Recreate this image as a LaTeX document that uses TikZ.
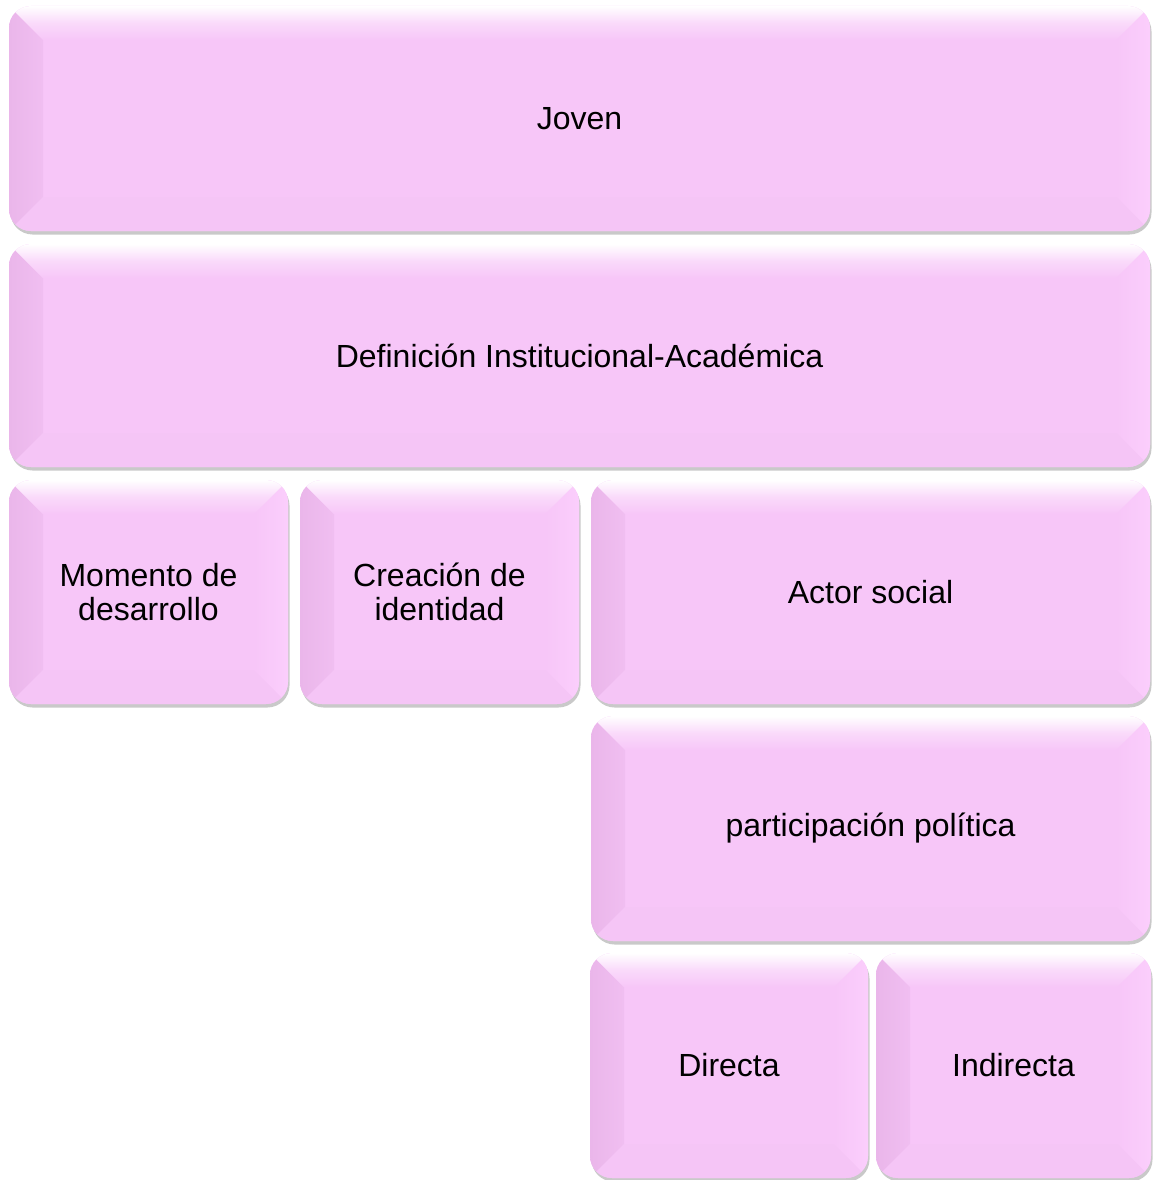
\documentclass[tikz,border=0pt]{standalone}
\usepackage{fontspec}
\setmainfont{Liberation Sans}
\usetikzlibrary{calc,shadows}
\definecolor{pinkmain}{RGB}{247,198,248}
\definecolor{pinkleft}{RGB}{234,182,234}
\definecolor{pinkright}{RGB}{251,206,252}
\definecolor{pinkbot}{RGB}{245,197,246}
\tikzset{
  x=1pt, y=1pt,
  bevbox/.style={
    rectangle, rounded corners=22pt, fill=pinkmain, draw=none, inner sep=0pt,
    align=center, font=\fontsize{32}{34}\selectfont,
    drop shadow={shadow xshift=1.5pt, shadow yshift=-3.5pt, opacity=0.3, fill=black!70},
    path picture={
      \coordinate (NW) at (path picture bounding box.north west);
      \coordinate (NE) at (path picture bounding box.north east);
      \coordinate (SW) at (path picture bounding box.south west);
      \coordinate (SE) at (path picture bounding box.south east);
      \begin{scope}[sharp corners]
      \shade[left color=pinkleft, right color=pinkleft!50!pinkmain]
        (NW) -- ($(NW)+(34,-34)$) -- ($(SW)+(34,34)$) -- (SW) -- cycle;
      \shade[left color=pinkmain, right color=pinkright]
        (NE) -- ($(NE)+(-34,-34)$) -- ($(SE)+(-34,34)$) -- (SE) -- cycle;
      \fill[pinkbot]
        (SW) -- ($(SW)+(34,34)$) -- ($(SE)+(-34,34)$) -- (SE) -- cycle;
      \shade[top color=white, bottom color=pinkmain, middle color=white!35!pinkmain]
        (NW) -- (NE) -- ($(NE)+(-34,-34)$) -- ($(NW)+(34,-34)$) -- cycle;
      \end{scope}
    }
  }
}
\begin{document}
\begin{tikzpicture}
\useasboundingbox (0,0) rectangle (1152,-1180);
\node[bevbox, minimum width=1141, minimum height=225] (joven) at (579.5,-118.5) {Joven};
\node[bevbox, minimum width=1141, minimum height=223] (defin) at (579.5,-355.5) {Definición Institucional-Académica};
\node[bevbox, minimum width=279, minimum height=224] (momento) at (148.5,-592) {Momento de\\desarrollo};
\node[bevbox, minimum width=279, minimum height=224] (creacion) at (439.5,-592) {Creación de\\identidad};
\node[bevbox, minimum width=559, minimum height=224] (actor) at (870.5,-592) {Actor social};
\node[bevbox, minimum width=559, minimum height=225] (partic) at (870.5,-828.5) {participación política};
\node[bevbox, minimum width=278, minimum height=225] (directa) at (729,-1065.5) {Directa};
\node[bevbox, minimum width=275, minimum height=225] (indirecta) at (1013.5,-1065.5) {Indirecta};
\end{tikzpicture}
\end{document}
